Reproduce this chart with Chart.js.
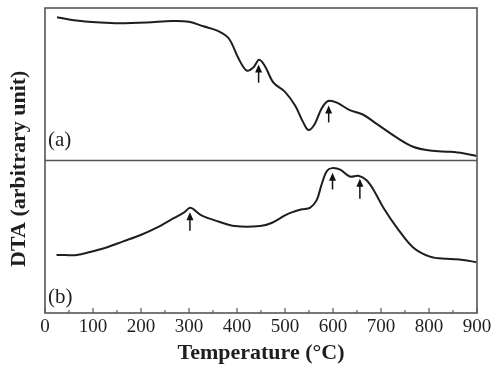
<!DOCTYPE html>
<html>
<head>
<meta charset="utf-8">
<script src="https://cdn.jsdelivr.net/npm/chart.js@4.4.1/dist/chart.umd.min.js"></script>
<style>
  html, body { margin: 0; padding: 0; background: #fff; }
  #wrap { width: 498px; height: 373px; }
</style>
</head>
<body>
<div id="wrap"><canvas id="dta"></canvas></div>
<script>
// curve (a), upper panel (1..2), curve (b), lower panel (0..1)
const tempA = [25, 60, 115, 155, 212, 265, 300, 330, 360, 383, 403, 420, 434, 446, 458, 476, 500, 521, 538, 549, 562, 576, 590, 608, 635, 663, 691, 733, 767, 802, 844, 871, 899];
const dtaA  = [1.94, 1.92, 1.905, 1.90, 1.905, 1.915, 1.91, 1.88, 1.85, 1.80, 1.67, 1.59, 1.61, 1.66, 1.62, 1.51, 1.45, 1.36, 1.25, 1.20, 1.24, 1.34, 1.39, 1.38, 1.33, 1.30, 1.24, 1.15, 1.09, 1.065, 1.057, 1.048, 1.03];

const tempB = [24, 42, 66, 94, 128, 163, 198, 233, 267, 290, 303, 326, 361, 396, 448, 472, 500, 514, 535, 552, 566, 576, 587, 598, 615, 635, 653, 670, 684, 705, 733, 767, 802, 837, 871, 899];
const dtaB  = [0.38, 0.38, 0.38, 0.40, 0.43, 0.47, 0.51, 0.56, 0.62, 0.66, 0.69, 0.64, 0.60, 0.57, 0.57, 0.59, 0.64, 0.66, 0.68, 0.69, 0.74, 0.84, 0.93, 0.95, 0.94, 0.895, 0.90, 0.87, 0.81, 0.69, 0.56, 0.43, 0.37, 0.355, 0.348, 0.333];

// arrows marking the peaks
const arrowTemp = [445, 591, 302, 599, 656];
const arrowTip  = [1.63, 1.36, 0.66, 0.92, 0.88];
const arrowTail = [1.51, 1.25, 0.54, 0.81, 0.75];

// panel labels
const panelText = ['(a)', '(b)'];
const panelY    = [1.13, 0.10];

const xTicks = [0, 100, 200, 300, 400, 500, 600, 700, 800, 900];

const serif = '"Liberation Serif", "Times New Roman", serif';
const ink = '#1e1e1e';

const toPts = (xs, ys) => xs.map((x, i) => ({ x, y: ys[i] }));

const decor = {
  id: 'decor',
  afterDatasetsDraw(chart) {
    const { ctx, chartArea: a, scales: { x, y } } = chart;
    ctx.save();
    // frame + divider
    ctx.strokeStyle = '#555';
    ctx.lineWidth = 1.6;
    ctx.strokeRect(a.left, a.top, a.right - a.left, a.bottom - a.top);
    const yd = y.getPixelForValue(1);
    ctx.beginPath();
    ctx.moveTo(a.left, yd);
    ctx.lineTo(a.right, yd);
    ctx.stroke();

    // inward ticks every 50
    ctx.lineWidth = 1.2;
    for (let t = 0; t <= 900; t += 50) {
      const px = x.getPixelForValue(t);
      const len = t % 100 === 0 ? 5 : 3;
      ctx.beginPath();
      ctx.moveTo(px, a.bottom);
      ctx.lineTo(px, a.bottom - len);
      ctx.stroke();
    }

    // arrows
    ctx.strokeStyle = '#111';
    ctx.fillStyle = '#111';
    ctx.lineWidth = 1.5;
    arrowTemp.forEach((t, i) => {
      const px = x.getPixelForValue(t);
      const top = y.getPixelForValue(arrowTip[i]);
      const bot = y.getPixelForValue(arrowTail[i]);
      ctx.beginPath();
      ctx.moveTo(px, bot);
      ctx.lineTo(px, top + 6);
      ctx.stroke();
      ctx.beginPath();
      ctx.moveTo(px, top);
      ctx.lineTo(px - 3.5, top + 8);
      ctx.lineTo(px + 3.5, top + 8);
      ctx.closePath();
      ctx.fill();
    });

    // panel labels
    ctx.fillStyle = ink;
    ctx.font = '21px ' + serif;
    ctx.textBaseline = 'middle';
    ctx.textAlign = 'left';
    panelText.forEach((s, i) => {
      ctx.fillText(s, a.left + 3, y.getPixelForValue(panelY[i]));
    });
    ctx.restore();
  }
};

new Chart(document.getElementById('dta'), {
  type: 'line',
  data: {
    datasets: [
      { label: 'a', data: toPts(tempA, dtaA) },
      { label: 'b', data: toPts(tempB, dtaB) }
    ]
  },
  options: {
    responsive: true,
    maintainAspectRatio: false,
    animation: false,
    layout: { padding: { top: 8, right: 21, left: 0, bottom: 7 } },
    elements: {
      line: { borderColor: ink, borderWidth: 2, tension: 0.35 },
      point: { radius: 0 }
    },
    plugins: { legend: { display: false }, tooltip: { enabled: false } },
    scales: {
      x: {
        type: 'linear',
        min: 0, max: 900,
        afterBuildTicks: s => { s.ticks = xTicks.map(v => ({ value: v })); },
        ticks: { color: ink, font: { family: serif, size: 19, lineHeight: 1 }, padding: 4.5, maxRotation: 0, autoSkip: false },
        grid: { display: false, drawTicks: false },
        border: { display: false },
        title: {
          display: true, text: 'Temperature (°C)', color: ink,
          font: { family: serif, size: 22, weight: 'bold', lineHeight: 1 },
          padding: { top: 1, bottom: 2 }
        }
      },
      y: {
        min: 0, max: 2,
        ticks: { display: false },
        grid: { display: false, drawTicks: false },
        border: { display: false },
        title: {
          display: true, text: 'DTA (arbitrary unit)   ', color: ink,
          font: { family: serif, size: 22, weight: 'bold', lineHeight: 1 },
          padding: { top: 8, bottom: 15 }
        }
      }
    }
  },
  plugins: [decor]
});
</script>
</body>
</html>
